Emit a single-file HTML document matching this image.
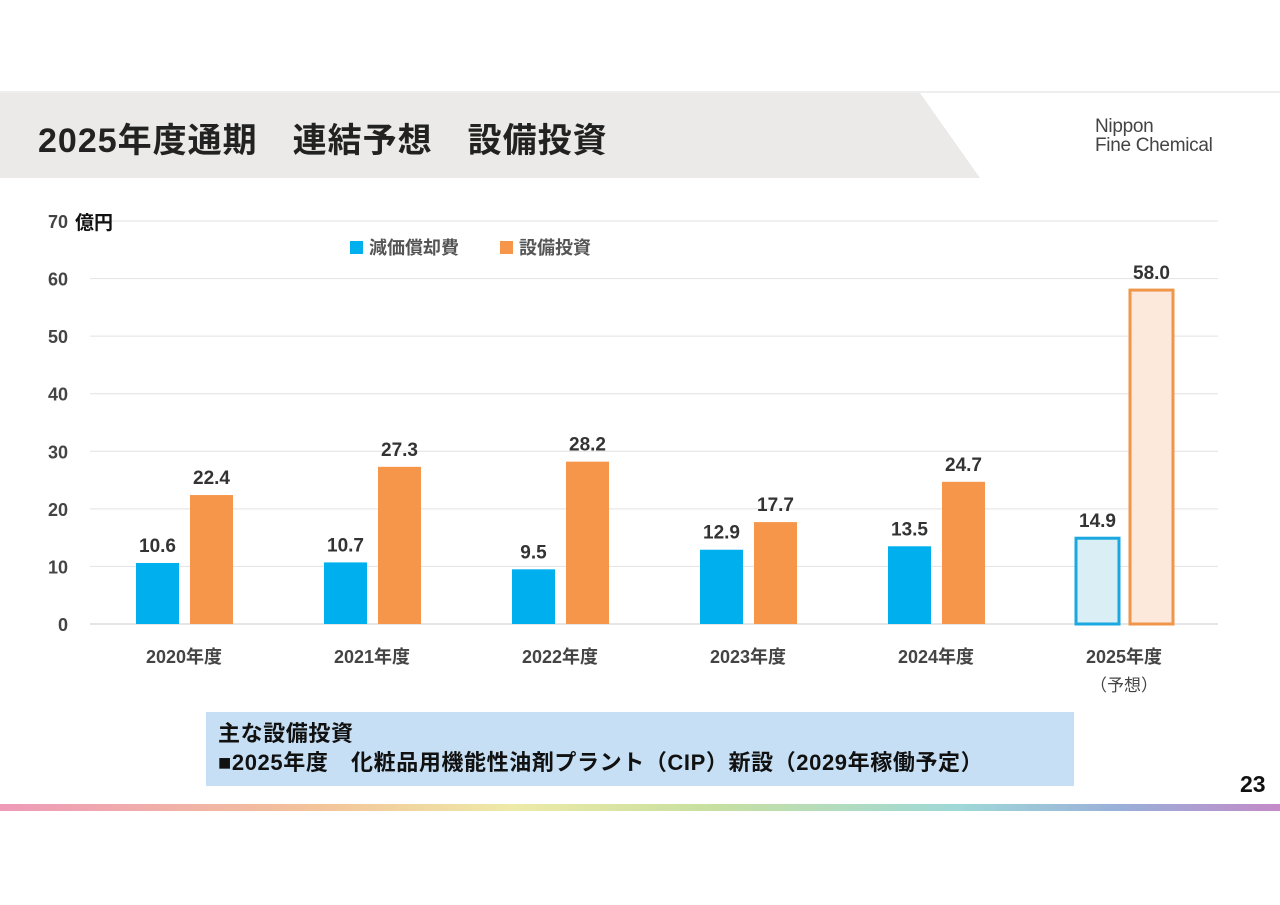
<!DOCTYPE html>
<html><head><meta charset="utf-8"><style>
body{margin:0;width:1280px;height:905px;background:#fff;overflow:hidden;font-family:"Liberation Sans","Noto Sans CJK JP",sans-serif;position:relative}
.abs{position:absolute}
</style></head><body>
<svg class="abs" style="left:0;top:0" width="1280" height="905">
<defs><linearGradient id="rb" x1="0" x2="1"><stop offset="0" stop-color="#ee9ab8"/><stop offset="0.25" stop-color="#f3c49a"/><stop offset="0.4" stop-color="#eeeaa8"/><stop offset="0.55" stop-color="#c8e0a0"/><stop offset="0.75" stop-color="#9ed8d8"/><stop offset="0.88" stop-color="#9aaed8"/><stop offset="1" stop-color="#c48ac8"/></linearGradient></defs>
<line x1="0" y1="92" x2="1280" y2="92" stroke="#ddd" stroke-width="1"/>
<polygon points="0,93 920,93 980,178 0,178" fill="#ebeae8"/>
<rect x="0" y="804" width="1280" height="7" fill="url(#rb)"/>
<g id="chart"></g>
</svg>
<div class="abs" style="left:38px;top:113px;font-size:34px;letter-spacing:1px;font-weight:bold;color:#222;white-space:pre">2025年度通期　連結予想　設備投資</div>
<div class="abs" style="left:1095px;top:117px;font-family:'Liberation Sans',sans-serif;font-size:19px;line-height:19px;color:#444;letter-spacing:-0.3px">Nippon<br>Fine Chemical</div>
<div class="abs" style="left:206px;top:712px;width:868px;height:74px;background:#c6dff4;font-size:22px;font-weight:bold;letter-spacing:0.6px;color:#111;line-height:29px;padding:7px 0 0 12px;box-sizing:border-box;white-space:nowrap"><div>主な設備投資</div><div>■2025年度　化粧品用機能性油剤プラント（CIP）新設（2029年稼働予定）</div></div>
<div class="abs" style="left:1240px;top:771px;font-size:23px;font-weight:bold;color:#111">23</div>
<script>
const categories=["2020年度","2021年度","2022年度","2023年度","2024年度","2025年度"];
const depreciation=[10.6,10.7,9.5,12.9,13.5,14.9];
const capex=[22.4,27.3,28.2,17.7,24.7,58.0];
const yTicks=[0,10,20,30,40,50,60,70];
const NS="http://www.w3.org/2000/svg";
const g=document.getElementById('chart');
const x0=90,x1=1218,yBase=624,yTop=221,yMax=70;
const y=v=>yBase-(v/yMax)*(yBase-yTop);
const bw=(x1-x0)/categories.length;
const cx=i=>x0+bw*(i+0.5);
function mk(t,a,txt){const e=document.createElementNS(NS,t);for(const k in a)e.setAttribute(k,a[k]);if(txt!=null)e.textContent=txt;g.appendChild(e);return e;}
yTicks.forEach(t=>{
 const l=mk('line',{x1:x0,x2:x1,y1:y(t),y2:y(t),stroke:t===0?'#ccc':'#e2e2e2','stroke-width':1});
 
 
 const tx=mk('text',{x:68,y:y(t)+7,'text-anchor':'end','font-size':18,'font-weight':'bold',fill:'#444'},String(t));
 
 
});
const u=mk('text',{x:75,y:y(70)+8,'font-size':19,'font-weight':'bold',fill:'#111'},'億円');


const w=43;
categories.forEach((c,i)=>{
 const fc=i===5;
 const bx=cx(i)-w-5,ox=cx(i)+6;
 const b=mk('rect',{x:bx,y:y(depreciation[i]),width:w,height:yBase-y(depreciation[i]),fill:fc?'#daeef5':'#00b0ee',stroke:fc?'#1aa8e0':'none','stroke-width':fc?3:0});
 
 
 const o=mk('rect',{x:ox,y:y(capex[i]),width:w,height:yBase-y(capex[i]),fill:fc?'#fde8dc':'#f5964a',stroke:fc?'#f0964a':'none','stroke-width':fc?3:0});
 
 
 const l1=mk('text',{x:bx+w/2,y:y(depreciation[i])-11,'text-anchor':'middle','font-size':19,'font-weight':'bold',fill:'#333'},depreciation[i].toFixed(1));
 
 
 const l2=mk('text',{x:ox+w/2,y:y(capex[i])-11,'text-anchor':'middle','font-size':19,'font-weight':'bold',fill:'#333'},capex[i].toFixed(1));
 
 
 const cl=mk('text',{x:cx(i),y:663,'text-anchor':'middle','font-size':18,'font-weight':'bold',fill:'#444'},c);
 
 
});
const sub=mk('text',{x:cx(5),y:691,'text-anchor':'middle','font-size':17,fill:'#444'},'（予想）');


const lg1=mk('rect',{x:350,y:241,width:13,height:13,fill:'#00b0ee'});


const lt1=mk('text',{x:369,y:254,'font-size':18,'font-weight':'bold',fill:'#555'},'減価償却費');


const lg2=mk('rect',{x:500,y:241,width:13,height:13,fill:'#f5964a'});


const lt2=mk('text',{x:519,y:254,'font-size':18,'font-weight':'bold',fill:'#555'},'設備投資');


</script>
</body></html>
